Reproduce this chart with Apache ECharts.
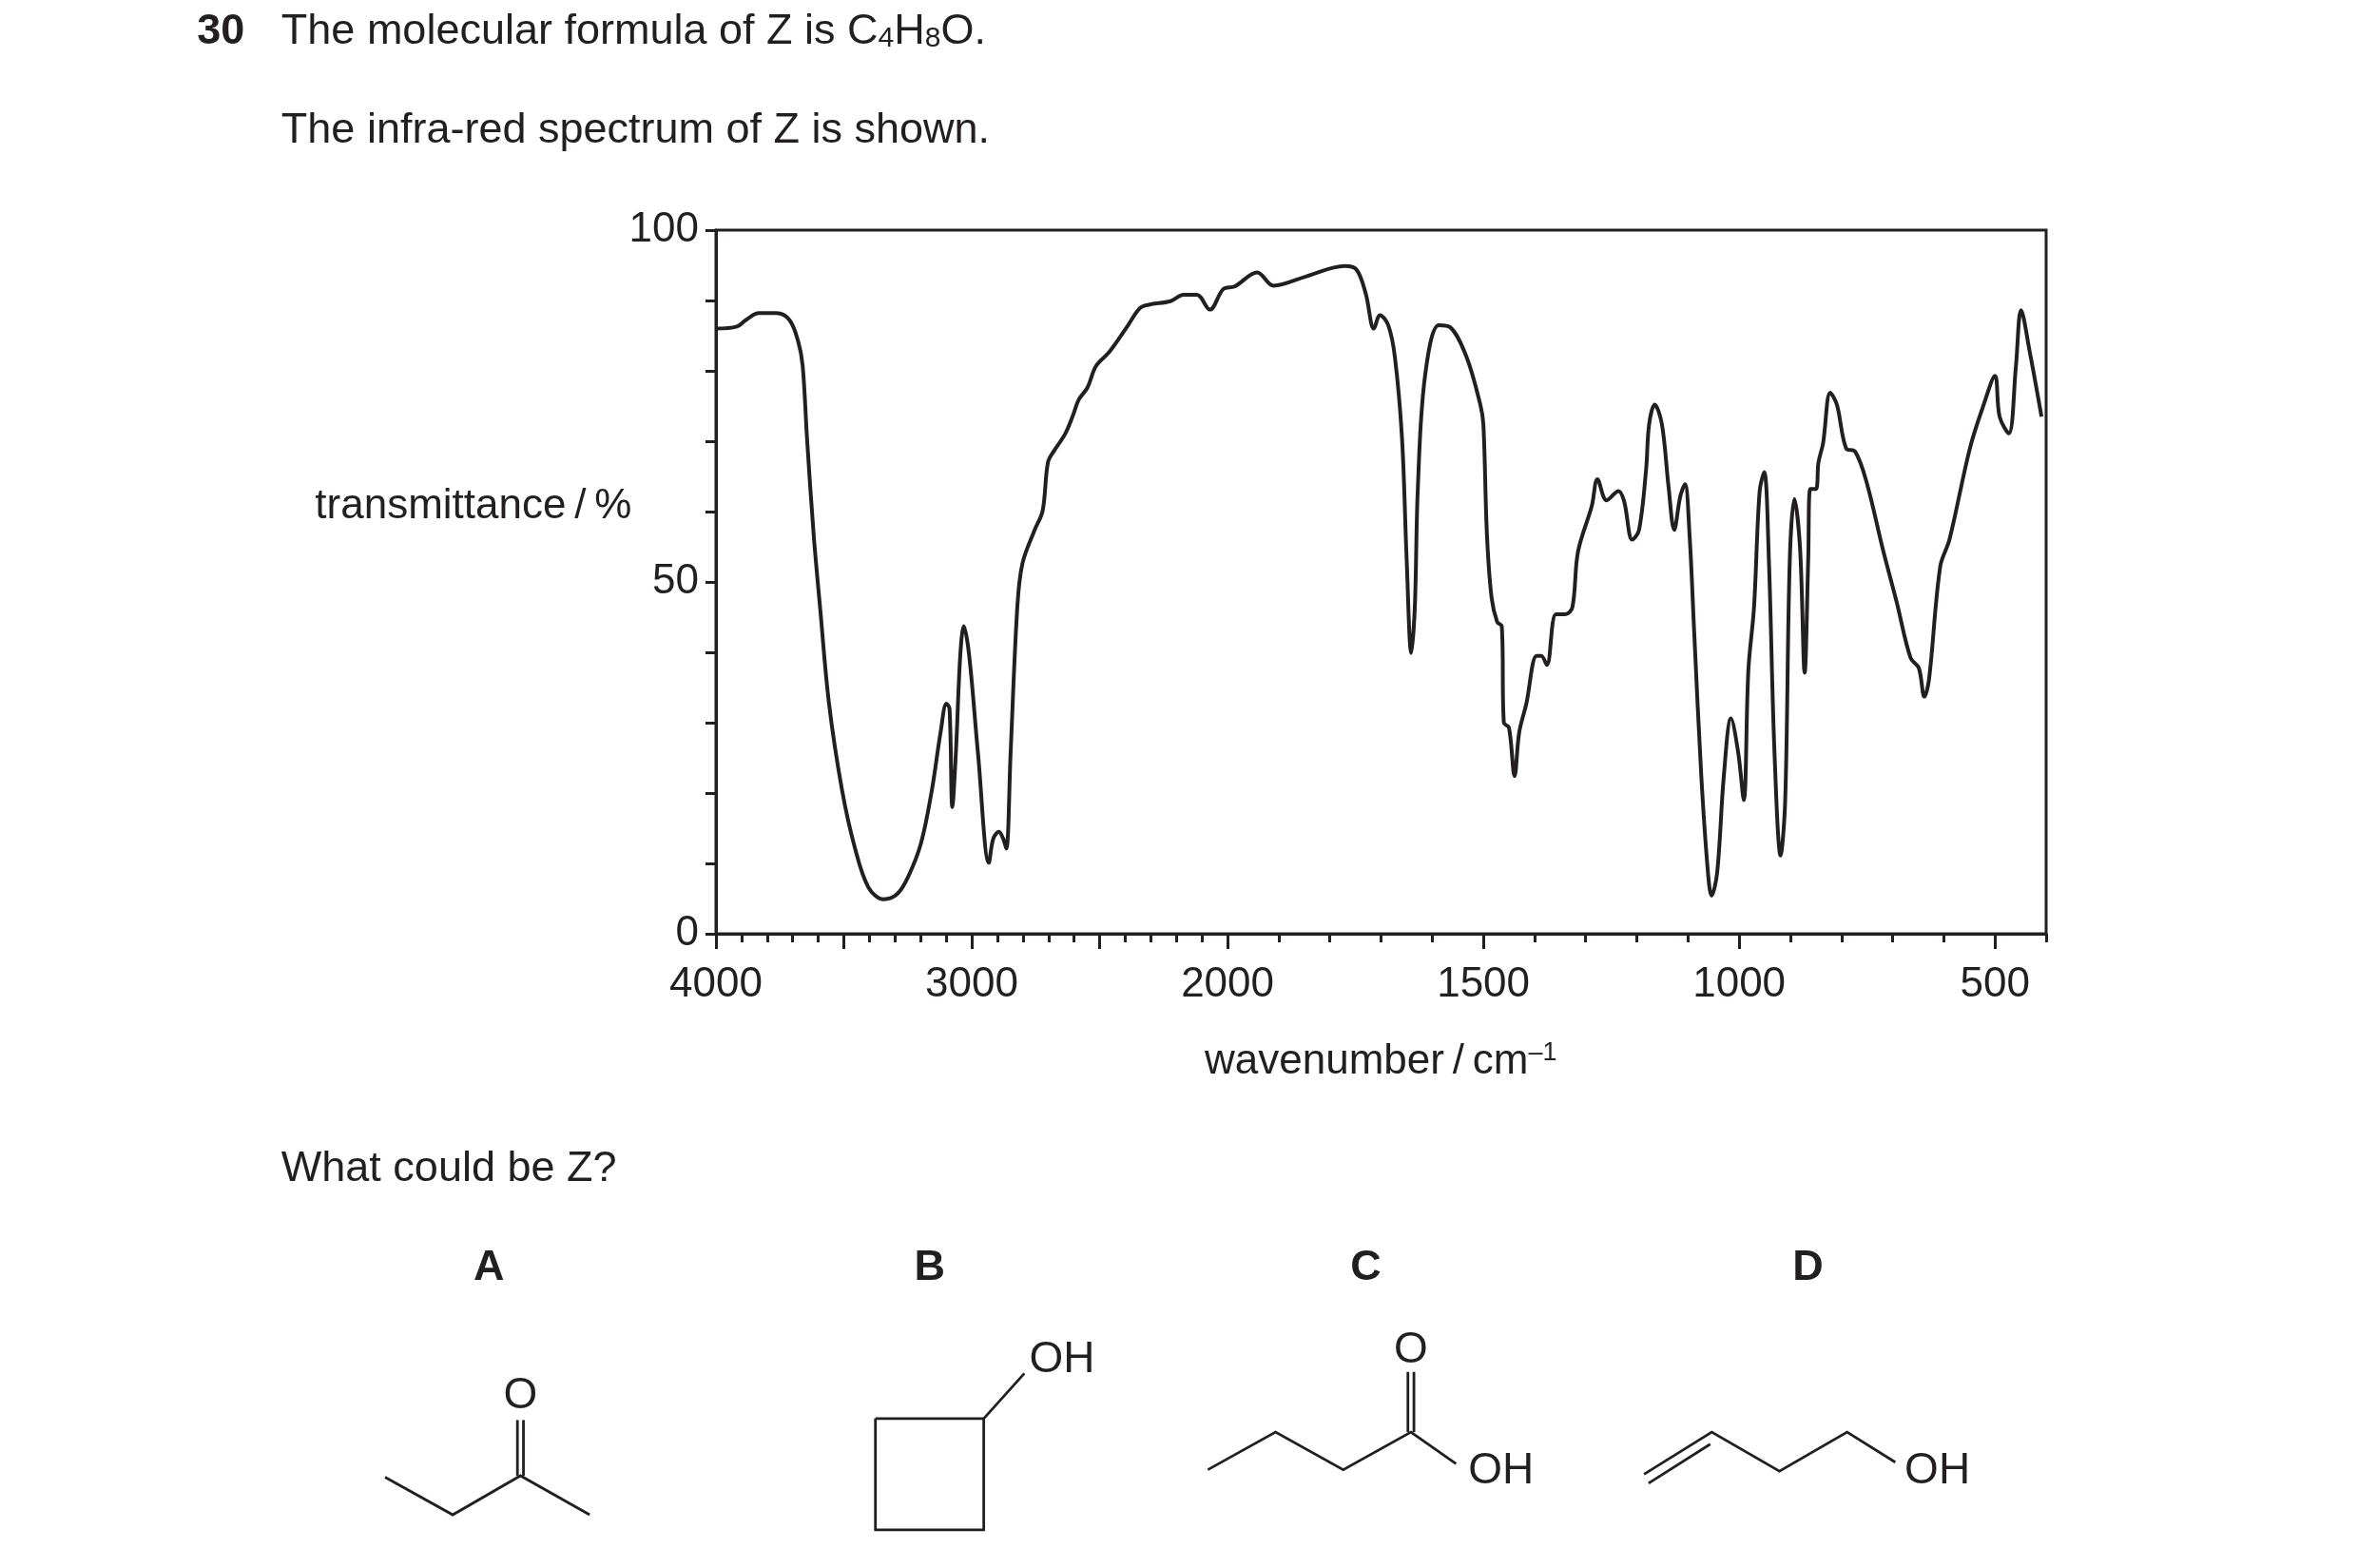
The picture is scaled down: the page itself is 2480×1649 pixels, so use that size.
<!DOCTYPE html>
<html><head><meta charset="utf-8">
<script src="https://cdn.jsdelivr.net/npm/echarts@6/dist/echarts.min.js"></script>
<style>html,body{margin:0;padding:0;background:#fff}#c{width:2480px;height:1649px}</style>
</head><body><div id="c"></div>
<script>
// wavenumber (cm-1) and transmittance (%)
const wavenumbers = [4000,3918,3884,3832,3764,3712,3678,3661,3644,3618,3593,3558,3507,3456,3404,3344,3293,3250,3199,3156,3122,3099,3087,3076,3062,3045,3031,3010,2976,2933,2916,2894,2877,2865,2848,2822,2802,2754,2723,2702,2677,2634,2603,2582,2548,2514,2462,2394,2343,2308,2223,2172,2120,2069,2017,1986,1942,1910,1847,1771,1748,1730,1714,1702,1686,1673,1659,1650,1641,1634,1628,1614,1587,1565,1533,1506,1500,1493,1484,1473,1464,1460,1450,1439,1430,1416,1396,1387,1376,1358,1340,1326,1315,1288,1277,1259,1236,1225,1209,1196,1182,1176,1165,1151,1138,1127,1115,1106,1097,1088,1074,1061,1054,1043,1030,1016,1002,991,982,971,960,951,942,931,919,910,901,892,881,872,865,861,850,845,836,822,809,791,773,751,719,692,665,649,638,629,607,589,549,522,500,491,473,459,449,432,409];
const transmittance = [86.0,86.3,87.2,88.2,88.2,87.2,84.1,80.7,70.4,56.7,46.4,32.7,20.4,12.1,6.6,4.9,5.6,8.0,12.8,20.4,28.6,32.7,32.0,18.0,25.8,39.5,43.7,39.5,25.8,10.1,13.5,14.5,13.5,12.1,25.8,46.4,52.6,57.4,60.1,67.0,68.7,71.1,73.8,75.9,77.6,80.7,82.7,86.2,88.9,89.4,89.9,90.8,90.8,88.7,91.6,92.0,94.0,92.1,93.4,94.9,94.4,91.0,86.0,87.9,86.5,82.0,70.4,53.3,39.9,46.4,63.5,79.3,86.5,86.2,82.0,75.2,72.4,56.7,47.8,44.3,43.7,30.0,29.3,22.4,28.6,32.7,39.5,39.5,38.2,45.4,45.4,46.4,54.3,60.8,64.6,61.6,62.9,61.5,56.0,57.3,65.9,72.4,75.2,72.4,63.5,57.4,62.2,63.9,56.7,43.0,22.4,8.7,5.4,8.7,22.4,30.6,25.8,19.0,37.5,46.4,62.9,65.6,53.3,25.8,11.1,19.0,53.3,61.8,54.8,37.1,53.3,63.2,63.2,67.0,69.7,76.9,75.2,69.0,68.5,64.2,54.6,47.1,39.2,37.8,33.7,36.1,52.2,56.0,69.0,75.2,79.3,73.5,71.1,80.7,88.6,82.7,73.5];
const xTickLabels = [4000,3000,2000,1500,1000,500];
const yTickLabels = [0,50,100];

// split-scale wavenumber axis: 4000-2000 compressed by 2
const u = w => w >= 2000 ? (4000 - w) / 2 : 1000 + (2000 - w);
const uToW = v => v <= 1000 ? 4000 - 2 * v : 2000 - (v - 1000);
const data = wavenumbers.map((w, i) => [u(w), transmittance[i]]);
const majorU = [0,250,500,750,1000,1500,2000,2500];
const minorU = [];
for (let w = 4000; w >= 2000; w -= 100) minorU.push(u(w));
for (let w = 1900; w >= 400; w -= 100) minorU.push(u(w));

const K = 1.582, s = v => v * K;
const FONT = 'Liberation Sans, Arial, sans-serif';
const col = '#231f20';
const fs = 45, lw = 3;
function line(pts, w) { return {type:'polyline', shape:{points:pts.map(p=>[s(p[0]),s(p[1])])}, style:{stroke:col, lineWidth:w||2.8, fill:null}}; }
function txt(x, y, t, opt) { return Object.assign({type:'text', x:s(x), y:s(y), style:Object.assign({text:t, font:`${fs}px ${FONT}`, fill:col, textAlign:'left', textVerticalAlign:'middle'}, opt||{})}); }

const chart = echarts.init(document.getElementById('c'));
const axisLine = {show:true, lineStyle:{color:col, width:lw}};
chart.setOption({
  animation:false,
  grid:{left:753, right:328, top:242, bottom:667, show:true, borderColor:col, borderWidth:lw, backgroundColor:'transparent'},
  xAxis:[
    {type:'value', min:0, max:2600, position:'bottom', axisLine,
     splitLine:{show:false},
     axisTick:{show:true, customValues:majorU, length:16, lineStyle:{color:col, width:lw}},
     axisLabel:{show:true, customValues:xTickLabels.map(u), formatter:v=>String(Math.round(uToW(v))), color:col, fontSize:44, fontFamily:FONT, margin:32}},
    {type:'value', min:0, max:2600, position:'bottom', axisLine:{show:false},
     splitLine:{show:false},
     axisTick:{show:true, customValues:minorU, length:9, lineStyle:{color:col, width:lw}},
     axisLabel:{show:false}}
  ],
  yAxis:{type:'value', min:0, max:100, interval:10, axisLine, splitLine:{show:false},
    axisTick:{show:true, length:11, lineStyle:{color:col, width:lw}},
    axisLabel:{customValues:yTickLabels, color:col, fontSize:44, fontFamily:FONT, margin:18}},
  series:[{type:'line', data, showSymbol:false, smooth:0.35, lineStyle:{color:col, width:4}, clip:true}],
  graphic:[
    txt(131,21,'30',{font:`bold ${fs}px ${FONT}`}),
    {type:'text', x:s(187), y:s(21), style:{rich:{n:{font:`${fs}px ${FONT}`, fill:col}, sub:{font:`30px ${FONT}`, fill:col, verticalAlign:'bottom', padding:[16,0,0,0]}}, text:'{n|The molecular formula of Z is C}{sub|4}{n|H}{sub|8}{n|O.}', textVerticalAlign:'middle'}},
    txt(187,87,'The infra-red spectrum of Z is shown.'),
    txt(420,337,'transmittance\u2009/\u2009%',{textAlign:'right', font:`44px ${FONT}`}),
    {type:'text', x:s(918), y:s(706), style:{rich:{n:{font:`44px ${FONT}`, fill:col}, sup:{font:`27px ${FONT}`, fill:col, verticalAlign:'top', padding:[0,0,18,0]}}, text:'{n|wavenumber\u2009/\u2009cm}{sup|\u20131}', textAlign:'center', textVerticalAlign:'middle'}},
    txt(187,777,'What could be Z?'),
    txt(325,843,'A',{font:`bold ${fs}px ${FONT}`, textAlign:'center'}),
    txt(618,843,'B',{font:`bold ${fs}px ${FONT}`, textAlign:'center'}),
    txt(908,843,'C',{font:`bold ${fs}px ${FONT}`, textAlign:'center'}),
    txt(1202,843,'D',{font:`bold ${fs}px ${FONT}`, textAlign:'center'}),
    // A: butanone
    line([[256,982],[301,1007],[346,981],[392,1007]]),
    line([[344,981],[344,944]]), line([[348,981],[348,944]]),
    txt(346,928,'O',{textAlign:'center', font:`46px ${FONT}`}),
    // B: cyclobutanol
    line([[582,943],[654,943],[654,1017],[582,1017],[582,943]]),
    line([[654,943],[681,913]]),
    txt(706,904,'OH',{textAlign:'center', font:`46px ${FONT}`}),
    // C: butanoic acid
    line([[803,977],[848,952],[893,977],[938,952],[968,973]]),
    line([[936,952],[936,912]]), line([[940,952],[940,912]]),
    txt(938,898,'O',{textAlign:'center', font:`46px ${FONT}`}),
    txt(998,978,'OH',{textAlign:'center', font:`46px ${FONT}`}),
    // D: but-3-en-1-ol
    line([[1093,980],[1138,952],[1183,978],[1228,952],[1260,972]]),
    line([[1096,986],[1137,960]]),
    txt(1288,978,'OH',{textAlign:'center', font:`46px ${FONT}`})
  ]
});
</script></body></html>
